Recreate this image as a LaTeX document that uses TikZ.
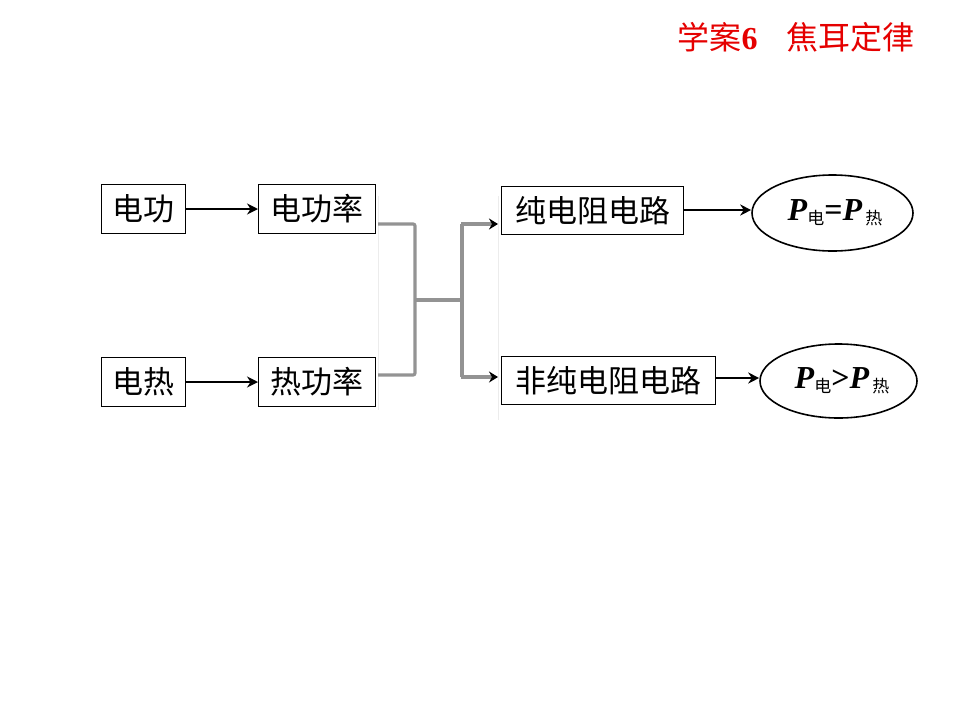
\documentclass[tikz,border=0pt]{standalone}
\usepackage{fontspec}
\setmainfont{Liberation Serif}
\newfontfamily\cjk{Noto Sans CJK SC}
\usetikzlibrary{arrows.meta,shapes.geometric}
\begin{document}
\begin{tikzpicture}[x=1pt,y=-1pt,
  box/.style={draw=black,line width=1pt,inner sep=0pt,font=\cjk\fontsize{31}{34}\selectfont,anchor=north west},
  ell/.style={draw=black,line width=1.6pt,ellipse,inner sep=0pt},
  arr/.style={line width=2.2pt,-{Stealth[length=11pt,width=11pt]}},
  garr/.style={draw=gray!85,line width=3.2pt,rounded corners=2pt},
  gtip/.style={line width=3.2pt,draw=gray!85,-{Stealth[length=9pt,width=11pt,black]}}
]
\useasboundingbox (0,0) rectangle (960,720);
% title
\node[anchor=east,text=red!90!black,font=\cjk\fontsize{32}{35}\selectfont] (title) at (918,37)
  {学案\textbf{\fontspec{Liberation Serif}6}\hspace{0.9em}焦耳定律};
% faint image edges
\draw[gray!15,line width=1pt] (378,196) -- (378,410);
\draw[gray!15,line width=1pt] (498,196) -- (498,420);
% boxes
\node[box,minimum width=84pt,minimum height=49pt] (dg) at (101,184) {电功};
\node[box,minimum width=117pt,minimum height=49pt] (dgl) at (258,184) {电功率};
\node[box,minimum width=84pt,minimum height=49pt] (dr) at (101,357) {电热};
\node[box,minimum width=117pt,minimum height=49pt] (rgl) at (258,357) {热功率};
\node[box,minimum width=182pt,minimum height=48pt] (cz) at (501,186) {纯电阻电路};
\node[box,minimum width=214pt,minimum height=48pt] (fcz) at (501,356) {非纯电阻电路};
% ellipses
\node[ell,minimum width=161pt,minimum height=76pt] (e1) at (832.5,213) {};
\node[ell,minimum width=157pt,minimum height=74pt] (e2) at (838.5,381) {};
\node[font=\fontsize{32}{34}\selectfont] (t1) at (835,213)
  {\textbf{\textit{P}}\raisebox{-0.3ex}{\cjk\fontsize{17}{19}\selectfont 电}\textbf{=}\textbf{\textit{P}}\raisebox{-0.3ex}{\cjk\fontsize{17}{19}\selectfont\,热}};
\node[font=\fontsize{32}{34}\selectfont] (t2) at (842,381)
  {\textbf{\textit{P}}\raisebox{-0.3ex}{\cjk\fontsize{17}{19}\selectfont 电}\textbf{>}\textbf{\textit{P}}\raisebox{-0.3ex}{\cjk\fontsize{17}{19}\selectfont\,热}};
% black arrows
\draw[arr] (dg.east |- 0,209) -- (dgl.west |- 0,209);
\draw[arr] (dr.east |- 0,382) -- (rgl.west |- 0,382);
\draw[arr] (cz.east |- 0,210) -- (e1.west |- 0,210);
\draw[arr] (fcz.east |- 0,378) -- (e2.west |- 0,378);
% gray connector
\coordinate (lt) at (378,224);
\coordinate (lb) at (378,375);
\coordinate (jl) at (415,300);
\coordinate (jr) at (462,300);
\coordinate (rt) at (498,224);
\coordinate (rb) at (498,377);
\draw[garr] (lt) -- (415,224) -- (415,375) -- (lb);
\draw[garr] (jl) -- (jr);
\draw[garr] (462,224) -- (462,377);
\draw[gtip] (461,224) -- (rt);
\draw[gtip] (461,377) -- (rb);
\end{tikzpicture}
\end{document}
